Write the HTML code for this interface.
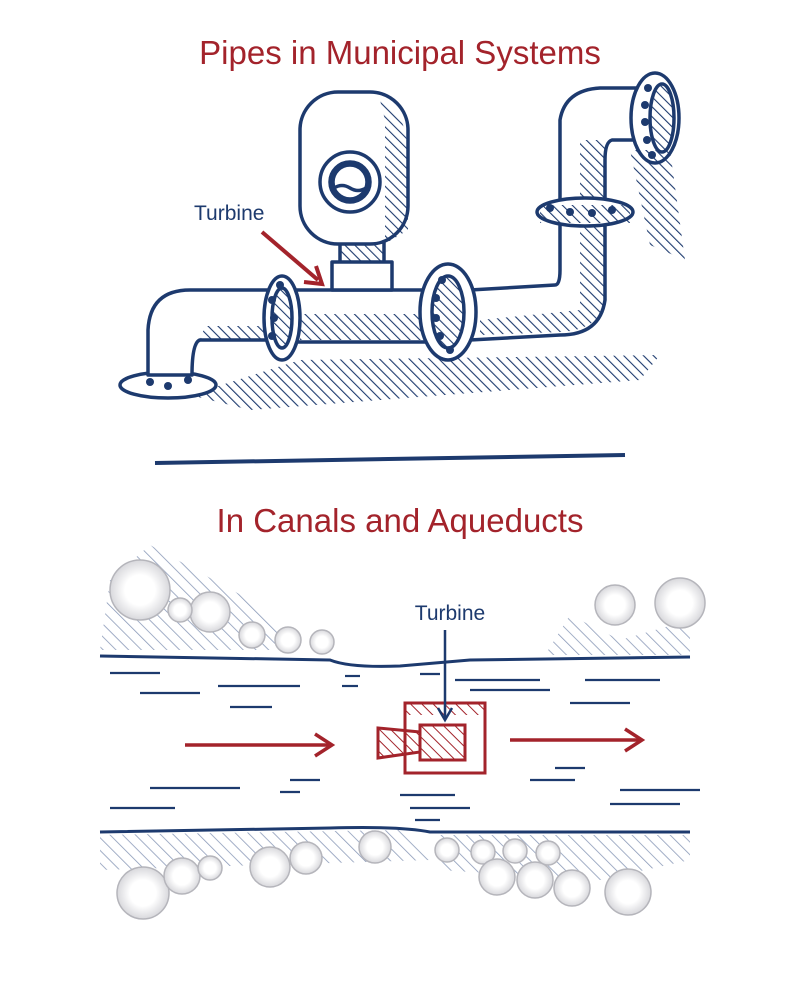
<!DOCTYPE html>
<html><head><meta charset="utf-8"><style>
html,body{margin:0;padding:0;background:#fff}
svg{display:block}
text{font-family:"Liberation Sans",sans-serif}
</style></head><body>
<svg width="800" height="982" viewBox="0 0 800 982" xmlns="http://www.w3.org/2000/svg">
<defs>
<pattern id="h" width="7" height="7" patternUnits="userSpaceOnUse" patternTransform="rotate(-45)">
<line x1="0" y1="0" x2="0" y2="7" stroke="#1d3a6e" stroke-width="2.2"/></pattern>
<pattern id="hl" width="9" height="9" patternUnits="userSpaceOnUse" patternTransform="rotate(-45)">
<line x1="0" y1="0" x2="0" y2="9" stroke="#8b9ab8" stroke-width="1.6"/></pattern>
<pattern id="hr" width="8" height="8" patternUnits="userSpaceOnUse" patternTransform="rotate(-45)">
<line x1="0" y1="0" x2="0" y2="8" stroke="#a3232b" stroke-width="2"/></pattern>
<radialGradient id="bush"><stop offset="0.5" stop-color="#fff"/><stop offset="1" stop-color="#d8d8dc"/></radialGradient>
</defs>
<text x="400" y="64" text-anchor="middle" font-size="33" fill="#a3232b">Pipes in Municipal Systems</text>

<g stroke="#1d3a6e" stroke-width="3.5" fill="#fff" stroke-linejoin="round">
<path d="M190 395 L300 360 L660 355 L640 380 L250 410 Z" fill="url(#h)" stroke="none"/>
<ellipse cx="168" cy="385" rx="48" ry="13"/>
<path d="M148 375 L148 330 Q150 290 190 290 L270 290 L270 340 L200 340 Q192 342 192 375 Z"/>
<path d="M200 340 L270 340 L270 326 L205 326 Z" fill="url(#h)" stroke="none"/>
<rect x="285" y="290" width="145" height="52"/>
<rect x="300" y="314" width="130" height="26" fill="url(#h)" stroke="none"/>
<path d="M470 290 L555 285 Q560 285 560 270 L560 120 Q565 90 600 88 L640 88 L640 140 L612 140 Q605 142 605 160 L605 300 Q600 335 560 335 L470 340 Z"/>
<path d="M580 140 L605 140 L605 300 Q600 330 560 332 L480 335 L480 320 L580 310 Z" fill="url(#h)" stroke="none"/>
<ellipse cx="282" cy="318" rx="18" ry="42"/>
<ellipse cx="282" cy="318" rx="10" ry="30" fill="url(#h)"/>
<ellipse cx="448" cy="312" rx="28" ry="48"/>
<ellipse cx="448" cy="312" rx="16" ry="36" fill="url(#h)"/>
<ellipse cx="585" cy="212" rx="48" ry="14"/>
<rect x="540" y="205" width="90" height="18" fill="url(#h)" stroke="none"/>
<ellipse cx="655" cy="118" rx="24" ry="45"/>
<ellipse cx="662" cy="118" rx="12" ry="34" fill="url(#h)"/>
<path d="M670 150 L685 260 L650 245 L630 150 Z" fill="url(#h)" stroke="none"/>
<rect x="340" y="238" width="44" height="25" fill="url(#h)"/>
<path d="M332 262 L392 262 L392 290 L332 290 Z"/>
<rect x="300" y="92" width="108" height="152" rx="38"/>
<path d="M380 100 Q408 110 408 160 L408 230 L385 244 L385 120 Z" fill="url(#h)" stroke="none"/>
<circle cx="350" cy="182" r="30"/>
<circle cx="350" cy="182" r="20" fill="url(#h)"/>
<circle cx="350" cy="182" r="17"/>
<path d="M334 188 Q342 183 350 188 Q358 193 366 188" fill="none"/>
</g>
<g fill="#1d3a6e">
<circle cx="272" cy="300" r="4"/><circle cx="274" cy="318" r="4"/><circle cx="272" cy="336" r="4"/><circle cx="280" cy="285" r="4"/>
<circle cx="442" cy="280" r="4"/><circle cx="436" cy="298" r="4"/><circle cx="436" cy="318" r="4"/><circle cx="440" cy="336" r="4"/><circle cx="450" cy="350" r="4"/>
<circle cx="550" cy="208" r="4"/><circle cx="570" cy="212" r="4"/><circle cx="592" cy="213" r="4"/><circle cx="612" cy="210" r="4"/>
<circle cx="648" cy="88" r="4"/><circle cx="645" cy="105" r="4"/><circle cx="645" cy="122" r="4"/><circle cx="647" cy="140" r="4"/><circle cx="652" cy="155" r="4"/>
<circle cx="150" cy="382" r="4"/><circle cx="168" cy="386" r="4"/><circle cx="188" cy="380" r="4"/>
</g>
<text x="194" y="220" font-size="21" fill="#1d3a6e">Turbine</text>
<path d="M262 232 L318 280" stroke="#a3232b" stroke-width="4" fill="none"/>
<path d="M304 282 L322 284 L316 266" stroke="#a3232b" stroke-width="4" fill="none"/>

<line x1="155" y1="463" x2="625" y2="455" stroke="#1d3a6e" stroke-width="4"/>

<text x="400" y="532" text-anchor="middle" font-size="33" fill="#a3232b">In Canals and Aqueducts</text>

<path d="M100 650 L110 580 L150 545 L250 600 L300 650 Z" fill="url(#hl)"/>
<path d="M545 655 L570 615 L620 640 L690 620 L690 655 Z" fill="url(#hl)"/>
<path d="M100 835 L400 830 L430 860 L100 870 Z" fill="url(#hl)"/>
<path d="M440 835 L690 835 L690 860 L600 880 L440 870 Z" fill="url(#hl)"/>
<g fill="url(#bush)" stroke="#b5b5bb" stroke-width="1.5">
<circle cx="140" cy="590" r="30"/><circle cx="210" cy="612" r="20"/><circle cx="180" cy="610" r="12"/>
<circle cx="252" cy="635" r="13"/><circle cx="288" cy="640" r="13"/><circle cx="322" cy="642" r="12"/>
<circle cx="615" cy="605" r="20"/><circle cx="680" cy="603" r="25"/>
<circle cx="143" cy="893" r="26"/><circle cx="182" cy="876" r="18"/><circle cx="210" cy="868" r="12"/>
<circle cx="270" cy="867" r="20"/><circle cx="306" cy="858" r="16"/><circle cx="375" cy="847" r="16"/>
<circle cx="447" cy="850" r="12"/><circle cx="483" cy="852" r="12"/><circle cx="515" cy="851" r="12"/><circle cx="548" cy="853" r="12"/>
<circle cx="497" cy="877" r="18"/><circle cx="535" cy="880" r="18"/><circle cx="572" cy="888" r="18"/><circle cx="628" cy="892" r="23"/>
</g>
<path d="M100 656 L330 660 Q350 668 400 666 L470 660 L690 657" stroke="#1d3a6e" stroke-width="3" fill="none"/>
<path d="M100 832 L330 828 Q400 826 430 832 L690 832" stroke="#1d3a6e" stroke-width="3" fill="none"/>
<g stroke="#1d3a6e" stroke-width="2.2">
<line x1="110" y1="673" x2="160" y2="673"/><line x1="140" y1="693" x2="200" y2="693"/><line x1="218" y1="686" x2="300" y2="686"/><line x1="230" y1="707" x2="272" y2="707"/>
<line x1="345" y1="676" x2="360" y2="676"/><line x1="342" y1="686" x2="358" y2="686"/><line x1="420" y1="674" x2="440" y2="674"/>
<line x1="455" y1="680" x2="540" y2="680"/><line x1="470" y1="690" x2="550" y2="690"/><line x1="585" y1="680" x2="660" y2="680"/><line x1="570" y1="703" x2="630" y2="703"/>
<line x1="150" y1="788" x2="240" y2="788"/><line x1="110" y1="808" x2="175" y2="808"/><line x1="290" y1="780" x2="320" y2="780"/><line x1="280" y1="792" x2="300" y2="792"/>
<line x1="400" y1="795" x2="455" y2="795"/><line x1="410" y1="808" x2="470" y2="808"/><line x1="415" y1="820" x2="440" y2="820"/>
<line x1="530" y1="780" x2="575" y2="780"/><line x1="555" y1="768" x2="585" y2="768"/><line x1="620" y1="790" x2="700" y2="790"/><line x1="610" y1="804" x2="680" y2="804"/>
</g>
<g stroke="#a3232b" stroke-width="3.5" fill="none">
<line x1="185" y1="745" x2="330" y2="745"/><path d="M315 734 L332 745 L315 756"/>
<line x1="510" y1="740" x2="640" y2="740"/><path d="M625 729 L642 740 L625 751"/>
</g>
<g stroke="#a3232b" stroke-width="3" fill="#fff">
<rect x="405" y="703" width="80" height="70"/>
<path d="M378 728 L420 732 L420 752 L378 758 Z" fill="url(#hr)"/>
<rect x="420" y="725" width="45" height="35" fill="url(#hr)"/>
<rect x="405" y="703" width="80" height="12" fill="url(#hr)" stroke="none"/>
</g>
<text x="450" y="620" text-anchor="middle" font-size="21" fill="#1d3a6e">Turbine</text>
<line x1="445" y1="630" x2="445" y2="718" stroke="#1d3a6e" stroke-width="2.5"/>
<path d="M438 708 L445 720 L452 708" stroke="#1d3a6e" stroke-width="2.5" fill="none"/>
</svg>
</body></html>
